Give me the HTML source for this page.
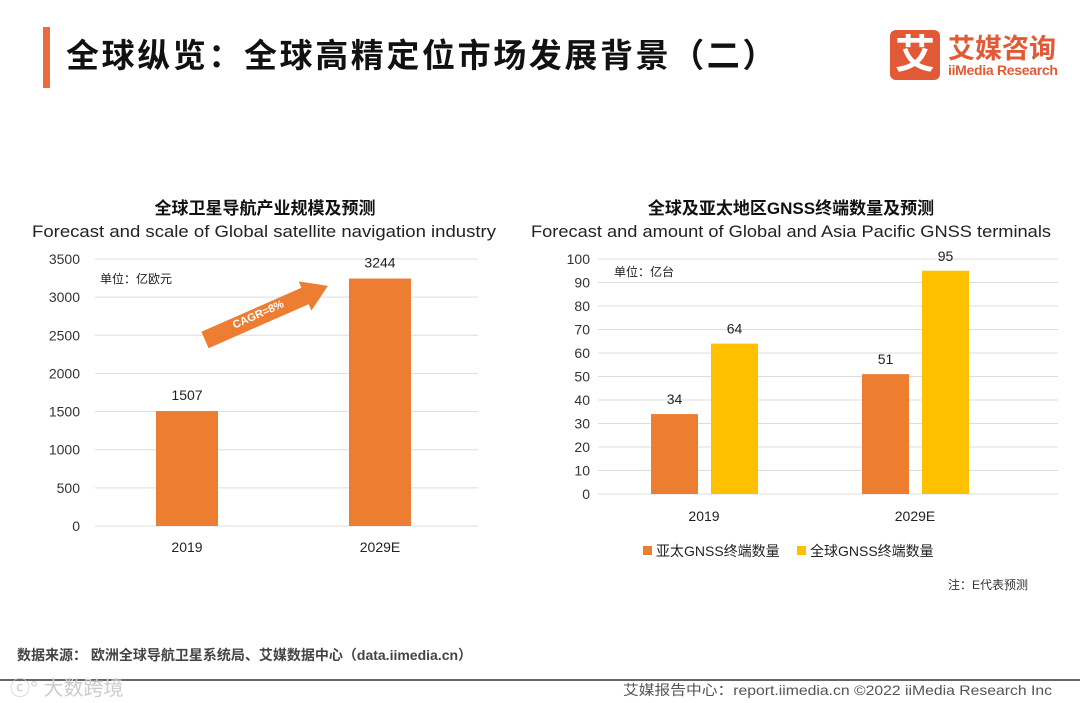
<!DOCTYPE html>
<html><head><meta charset="utf-8"><style>
body{margin:0;width:1080px;height:703px;background:#fff;overflow:hidden;position:relative;font-family:"Liberation Sans","Noto Sans CJK SC",sans-serif}
.a{position:absolute;white-space:nowrap}
</style></head><body>
<div class="a" style="left:43px;top:27px;width:7px;height:61px;background:#ee6b3b"></div>
<div class="a" style="left:66px;top:29px;font-size:33px;letter-spacing:2.6px;font-weight:bold;color:#111">全球纵览：全球高精定位市场发展背景（二）</div>
<div class="a" style="left:890px;top:30px;width:50px;height:50px;background:#e25a35;border-radius:6px;color:#fff;font-size:40px;font-weight:bold;text-align:center;line-height:50px">艾</div>
<div class="a" style="left:948px;top:27px;font-size:27px;font-weight:bold;color:#e25a35">艾媒咨询</div>
<div class="a" style="left:948px;top:62px;font-size:14px;font-weight:bold;color:#e25a35;letter-spacing:-0.3px">iiMedia Research</div>

<svg class="a" style="left:0;top:0" width="1080" height="703" id="svg"></svg>

<div class="a" style="left:17px;top:645px;font-size:14px;color:#444;font-weight:bold">数据来源： 欧洲全球导航卫星系统局、艾媒数据中心（data.iimedia.cn）</div>
<div class="a" style="left:0;top:679px;width:1080px;height:2px;background:#666"></div>
<div class="a" style="left:10px;top:672px;font-size:20px;color:#ccc">ⓒ° 大数跨境</div>
<div class="a" style="left:948px;top:576px;font-size:12px;color:#333">注：E代表预测</div>

<script>
const leftCats=["2019","2029E"];
const leftVals=[1507,3244];
const leftTicks=[0,500,1000,1500,2000,2500,3000,3500];
const rightCats=["2019","2029E"];
const apVals=[34,51];
const glVals=[64,95];
const rightTicks=[0,10,20,30,40,50,60,70,80,90,100];
const NS="http://www.w3.org/2000/svg";
const svg=document.getElementById('svg');
function mk(t,a,txt){const e=document.createElementNS(NS,t);for(const k in a)e.setAttribute(k,a[k]);if(txt!=null)e.textContent=txt;svg.appendChild(e);return e;}
let e;
e=mk('text',{x:623,y:695,'font-size':14,fill:'#555',textLength:429,lengthAdjust:'spacingAndGlyphs'},'艾媒报告中心：report.iimedia.cn   ©2022  iiMedia Research  Inc');

// left chart
const ly=v=>526-v/3500*267;
e=mk('text',{x:265,y:214,'text-anchor':'middle','font-size':17,'font-weight':'bold',fill:'#111'},'全球卫星导航产业规模及预测');

e=mk('text',{x:32,y:237,'font-size':17,fill:'#222',textLength:464,lengthAdjust:'spacingAndGlyphs'},'Forecast and scale of Global satellite navigation industry');

leftTicks.forEach(t=>{
 e=mk('line',{x1:95,x2:478,y1:ly(t),y2:ly(t),stroke:'#ddd'});
 
 e=mk('text',{x:80,y:ly(t)+5,'text-anchor':'end','font-size':14,fill:'#333'},t);
 
});
e=mk('text',{x:100,y:283,'font-size':12,fill:'#222'},'单位：亿欧元');

const lcx=i=>187+i*193;
leftVals.forEach((v,i)=>{
 e=mk('rect',{x:lcx(i)-31,y:ly(v),width:62,height:526-ly(v),fill:'#ed7d31'});
 
 e=mk('text',{x:lcx(i),y:ly(v)-11,'text-anchor':'middle','font-size':14,fill:'#222'},v);
 
 e=mk('text',{x:lcx(i),y:552,'text-anchor':'middle','font-size':14,fill:'#222'},leftCats[i]);
 
});
e=mk('polygon',{points:'208.6,348.2 201.4,331.8 301.4,287.8 298.6,281.4 327.9,285.9 311.4,310.6 308.6,304.2',fill:'#ed7d31'});

e=mk('text',{x:258,y:318,'text-anchor':'middle','font-size':11,'font-weight':'bold',fill:'#fff',transform:'rotate(-24 258 314)'},'CAGR=8%');

// right chart
const ry=v=>494-v/100*235;
e=mk('text',{x:791,y:214,'text-anchor':'middle','font-size':17,'font-weight':'bold',fill:'#111'},'全球及亚太地区GNSS终端数量及预测');

e=mk('text',{x:531,y:237,'font-size':17,fill:'#222',textLength:520,lengthAdjust:'spacingAndGlyphs'},'Forecast and amount of Global and Asia Pacific GNSS terminals');

rightTicks.forEach(t=>{
 e=mk('line',{x1:598,x2:1058,y1:ry(t),y2:ry(t),stroke:'#ddd'});
 
 e=mk('text',{x:590,y:ry(t)+5,'text-anchor':'end','font-size':14,fill:'#333'},t);
 
});
e=mk('text',{x:614,y:276,'font-size':12,fill:'#222'},'单位：亿台');

const rcx=i=>704+i*211;
rightCats.forEach((c,i)=>{
 [[apVals[i],'#ed7d31',-53],[glVals[i],'#ffc000',7]].forEach(([v,col,off])=>{
  e=mk('rect',{x:rcx(i)+off,y:ry(v),width:47,height:494-ry(v),fill:col});
  
  e=mk('text',{x:rcx(i)+off+23.5,y:ry(v)-10,'text-anchor':'middle','font-size':14,fill:'#222'},v);
  
 });
 e=mk('text',{x:rcx(i),y:521,'text-anchor':'middle','font-size':14,fill:'#222'},c);
 
});
[['亚太GNSS终端数量','#ed7d31',643],['全球GNSS终端数量','#ffc000',797]].forEach(([t,c,x])=>{
 e=mk('rect',{x:x,y:546,width:9,height:9,fill:c});
 
 e=mk('text',{x:x+13,y:556,'font-size':14,fill:'#222'},t);
 
});
</script>
</body></html>
